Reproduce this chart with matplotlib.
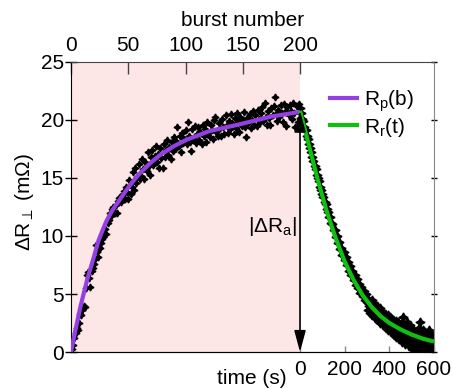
import matplotlib
matplotlib.use("Agg")
import matplotlib.pyplot as plt
from matplotlib.lines import Line2D
from matplotlib.patches import FancyArrowPatch

plt.rcParams['font.family'] = ['Liberation Sans', 'DejaVu Sans']
plt.rcParams['mathtext.fontset'] = 'custom'
plt.rcParams['mathtext.rm'] = 'Liberation Sans'
plt.rcParams['mathtext.it'] = 'Liberation Sans:italic'

# ---------------- data ----------------
# growth during pulsing: resistance change per burst (mOhm)
burst = list(range(1, 201))
dR_burst = [
    0.3, 0.6, 1.2, 1.6, 2.1, 1.9, 2.5, 3.3, 3.2, 3.6,
    4.0, 3.9, 5.5, 6.6, 6.9, 6.4, 5.6, 7.0, 7.2, 7.6,
    8.0, 9.2, 8.6, 8.2, 9.0, 9.4, 9.7, 9.9, 10.3, 10.6,
    10.2, 11.1, 11.4, 12.0, 11.7, 12.3, 12.5, 12.0, 12.7, 12.0,
    13.0, 13.3, 13.4, 12.9, 13.6, 13.9, 13.2, 14.2, 13.8, 13.2,
    14.8, 13.6, 14.2, 15.5, 14.0, 15.9, 14.6, 15.1, 16.2, 14.9,
    15.2, 16.6, 15.8, 14.9, 16.4, 15.6, 17.2, 16.0, 15.3, 16.8,
    17.4, 16.1, 16.9, 17.8, 16.4, 17.1, 15.9, 17.6, 16.7, 15.9,
    17.9, 16.8, 17.4, 18.3, 17.0, 17.7, 16.6, 18.1, 17.3, 18.5,
    17.5, 18.2, 19.4, 17.8, 18.6, 17.2, 18.9, 18.0, 18.4, 19.1,
    17.9, 19.85, 18.6, 18.1, 17.3, 19.2, 18.4, 19.5, 18.0, 18.8,
    19.4, 18.3, 19.0, 17.9, 19.6, 18.6, 19.2, 18.1, 19.8, 18.9,
    18.5, 19.6, 19.1, 18.4, 20.0, 20.3, 19.0, 18.6, 19.7, 19.3,
    18.6, 20.1, 19.4, 18.8, 20.4, 19.6, 18.9, 19.9, 19.2, 20.5,
    19.7, 18.8, 20.2, 19.3, 20.6, 19.8, 19.0, 20.3, 19.5, 20.0,
    20.7, 19.4, 18.5, 20.2, 19.7, 20.5, 19.3, 20.0, 20.8, 19.6,
    20.4, 19.5, 20.9, 20.1, 19.8, 20.6, 21.1, 19.9, 21.5, 20.3,
    19.6, 20.8, 20.2, 19.6, 21.0, 20.4, 21.2, 21.96, 20.5, 19.9,
    20.9, 20.3, 21.3, 20.6, 19.8, 21.4, 20.7, 19.5, 21.1, 20.4,
    21.3, 20.8, 20.1, 21.5, 20.6, 19.4, 21.2, 19.8, 21.4, 20.2,
]

# fitted growth curve R_p(b)
fit_b = [0, 2, 5, 8, 11, 14, 17, 20, 24, 28, 31, 36, 43, 48, 54, 60,
         70, 78, 90, 101, 121, 146, 175, 200]
fit_Rp = [0.0, 1.0, 2.4, 3.8, 5.0, 6.2, 7.2, 8.2, 9.6, 10.6, 11.3, 12.2,
          13.2, 13.9, 14.7, 15.4, 16.35, 17.0, 17.75, 18.3, 19.05, 19.6,
          20.3, 20.7]

# relaxation after pulsing: resistance change vs time (s)
time_s = list(range(0, 301, 5)) + list(range(303, 601, 3))
dR_time = [
    21.0, 20.6, 20.1, 19.9, 19.4, 19.1, 18.6, 18.4, 17.9, 17.6,
    17.2, 16.8, 16.5, 16.0, 15.8, 15.3, 15.0, 14.7, 14.2, 14.0,
    13.6, 13.4, 12.9, 12.8, 12.3, 12.1, 11.6, 11.6, 11.1, 11.0,
    10.5, 10.5, 9.9, 10.0, 9.4, 9.5, 8.9, 9.0, 8.4, 8.6,
    7.9, 8.2, 7.5, 7.8, 7.0, 7.4, 6.6, 7.0, 6.2, 6.6,
    5.8, 6.3, 5.5, 5.9, 5.1, 5.6, 4.8, 5.3, 4.5, 5.0,
    4.3,
    3.6, 4.6, 4.0, 3.4, 4.3, 3.8, 4.5, 3.2, 3.9, 3.5,
    4.2, 2.9, 3.7, 3.3, 4.0, 2.8, 3.4, 3.0, 3.8, 2.5,
    3.2, 2.8, 3.5, 2.3, 3.0, 2.6, 3.3, 2.1, 2.8, 2.4,
    3.2, 1.9, 2.6, 2.2, 3.0, 1.7, 2.5, 2.0, 2.8, 1.5,
    2.3, 1.8, 2.7, 1.3, 2.1, 1.6, 2.6, 1.1, 1.9, 1.4,
    2.4, 0.9, 1.7, 3.0, 1.2, 2.2, 0.7, 1.5, 2.6, 1.0,
    1.9, 0.5, 1.3, 2.3, 0.8, 1.6, 0.3, 1.1, 2.0, 0.6,
    1.4, 0.2, 0.9, 1.8, 0.4, 1.2, 2.1, 0.1, 2.6, 0.8,
    1.5, 0.3, 1.9, 0.6, 1.2, 0.0, 1.7, 0.5, 1.0, 0.2,
    1.4, 0.7, 1.9, 0.3, 1.1, 0.6, 1.5, 0.2, 1.2, 0.8,
]

# fitted relaxation curve R_r(t)
fit_t = [0, 40, 80, 120, 160, 200, 240, 280, 320, 360, 400, 450, 500, 550, 600]
fit_Rr = [20.8, 17.8, 14.8, 12.1, 9.8, 7.8, 6.2, 4.9, 3.9, 3.1, 2.5, 1.95, 1.5, 1.15, 0.9]

burst_ticks = [0, 50, 100, 150, 200]
time_ticks = [0, 200, 400, 600]
y_ticks = [0, 5, 10, 15, 20, 25]
dRa = 20.8

# ---------------- layout ----------------
PINK = '#fde6e6'
PURPLE = '#9340e2'
GREEN = '#10c010'
FS = 15
N_BURST = 200
X_MAX = 317.0          # right edge of the axes in burst units
T_MAX = 600.0
k = (X_MAX - N_BURST) / T_MAX   # bursts per second on the shared x scale


def t2x(t):
    return N_BURST + t * k


def x2t(x):
    return (x - N_BURST) / k


fig = plt.figure(figsize=(4.53, 3.89), dpi=100)
ax = fig.add_axes([71 / 453, 1 - 352 / 389, 363 / 453, 290 / 389])
ax.set_xlim(0, X_MAX)
ax.set_ylim(0, 25)

ax.axvspan(0, N_BURST, color=PINK, lw=0, zorder=0)

star = (4, 1, 0)
ax.plot(burst, dR_burst, ls='none', marker=star, ms=5, color='k', zorder=2)
ax.plot([t2x(t) for t in time_s], dR_time, ls='none', marker=star, ms=6.5,
        color='k', zorder=2)

ax.plot(fit_b, fit_Rp, color=PURPLE, lw=3, zorder=3, solid_capstyle='butt')
ax.plot([t2x(t) for t in fit_t], fit_Rr, color=GREEN, lw=3, zorder=3,
        solid_capstyle='butt')

arrow = FancyArrowPatch((N_BURST, dRa), (N_BURST, 0),
                        arrowstyle='<|-|>,head_length=1.3,head_width=0.35',
                        mutation_scale=10, color='k', lw=1.2,
                        shrinkA=0, shrinkB=0, zorder=4, clip_on=False)
ax.add_patch(arrow)
ax.text(197, 10.8, r'|$\Delta$R$_\mathrm{a}$|', ha='right', va='center', fontsize=FS)

# burst axis on top
ax.xaxis.tick_top()
ax.set_xticks(burst_ticks)
ax.set_xticklabels([str(v) for v in burst_ticks])
ax.tick_params(axis='x', which='both', direction='in', length=8.5, width=1,
               color='#444444', labelsize=FS, pad=5)

# time axis on bottom
sec = ax.secondary_xaxis('bottom', functions=(x2t, t2x))
sec.set_xticks(time_ticks)
sec.set_xticklabels([str(v) for v in time_ticks])
sec.tick_params(direction='in', length=4, width=1, color='#888888',
                labelsize=FS, pad=6)
sec.spines['bottom'].set_color('k')

# resistance axis
ax.set_yticks(y_ticks)
ax.set_yticklabels([str(v) for v in y_ticks])
ax.tick_params(axis='y', which='both', direction='inout', length=8, width=1,
               labelsize=FS, pad=1, right=True, labelright=False)
for t in ax.yaxis.get_major_ticks():
    t.tick2line.set_color('#888888')
    t.tick2line.set_markersize(4)

ax.spines['left'].set_color('k')
ax.spines['bottom'].set_color('k')
ax.spines['top'].set_color('#444444')
ax.spines['right'].set_color('#888888')

fig.text(243 / 453, 1 - 26 / 389, 'burst number', ha='center', va='baseline', fontsize=FS)
fig.text(252 / 453, 1 - 384 / 389, 'time (s)', ha='center', va='baseline', fontsize=FS)
fig.text(24 / 453, 1 - 202 / 389, r'$\Delta$R$_\perp$ (m$\Omega$)', rotation=90,
         ha='center', va='center', fontsize=FS)

handles = [Line2D([], [], color=PURPLE, lw=3), Line2D([], [], color=GREEN, lw=3)]
ax.legend(handles, [r'R$_\mathrm{p}$(b)', r'R$_\mathrm{r}$(t)'], loc='upper left',
          bbox_to_anchor=(0.713, 0.91), frameon=False, fontsize=FS,
          handlelength=1.3, handletextpad=0.35, labelspacing=0.1,
          borderpad=0, borderaxespad=0)

fig.savefig('out.png', dpi=100)
